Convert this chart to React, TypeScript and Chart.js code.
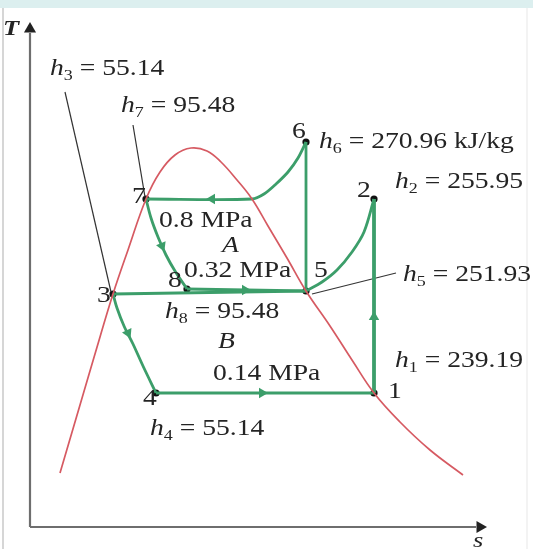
import { useEffect, useRef } from 'react';
import { Chart, registerables } from 'chart.js';
Chart.register(...registerables);

// ---- data (s, T in diagram units; T grows upward) ----
const domeS = [60, 80, 100, 113, 128, 146, 160, 175, 191, 207, 221, 237, 252, 268, 287, 306, 330, 352, 374, 400, 430, 463];
const domeT = [76, 144, 212, 255, 299, 350, 377, 394, 401, 398, 387, 369, 350, 323, 291, 258, 223, 189, 156, 127, 99, 74];

const stateNames = ['1', '2', '3', '4', '5', '6', '7', '8'];
const stateS = [374, 374, 113, 156, 306, 306, 146, 187];
const stateT = [156, 350, 255, 156, 258, 407, 350, 260];

// process paths
const path78S = [146, 151, 158, 166, 175, 187];
const path78T = [350, 331, 312, 294, 278, 260];
const path85S = [187, 306];
const path85T = [260, 258];
const path35S = [113, 306];
const path35T = [255, 258];
const path56S = [306, 306];
const path56T = [258, 407];
const path67S = [306, 298, 288, 276, 264, 252, 146];
const path67T = [407, 391, 377, 365, 355, 350, 350];
const path52S = [306, 322, 337, 352, 364, 374];
const path52T = [258, 267, 279, 297, 317, 350];
const path12S = [374, 374];
const path12T = [156, 350];
const path14S = [374, 156];
const path14T = [156, 156];
const path43S = [156, 143, 133, 124, 117, 113];
const path43T = [156, 183, 205, 223, 241, 255];

// flow arrows: position and heading (deg, clockwise from up)
const arrowS = [212, 162, 245, 262, 374, 128];
const arrowT = [350, 303, 259, 156, 232, 216];
const arrowDir = [-90, 157, 90, 90, 0, 155];

// leader lines
const leaders = [
  { s: [65, 111], T: [457, 257] },
  { s: [133, 145], T: [424, 352] },
  { s: [312, 396], T: [255, 276] },
];

// enthalpy labels
const hSubs = ['3', '7', '6', '2', '5', '8', '1', '4'];
const hValues = ['55.14', '95.48', '270.96 kJ/kg', '255.95', '251.93', '95.48', '239.19', '55.14'];
const hS = [50, 121, 319, 395, 403, 165, 395, 150];
const hT = [474, 437, 401, 361, 268, 231, 182, 114];

// state number labels
const numS = [388, 357, 97, 143, 314, 292, 132, 168];
const numT = [151, 352, 247, 144, 272, 411, 346, 262];

// pressure labels
const pressTexts = ['0.8 MPa', '0.32 MPa', '0.14 MPa'];
const pressS = [159, 184, 213];
const pressT = [322, 272, 169];

// region labels
const regionTexts = ['A', 'B'];
const regionS = [222, 218];
const regionT = [297, 201];

// axes
const axisTS = [30, 30];
const axisTT = [22, 516];
const axisSS = [30, 476];
const axisST = [22, 22];
const axisArrowS = [30, 480];
const axisArrowT = [520, 22];
const axisArrowDir = [0, 90];

const GREEN = '#3c9e6a';
const RED = '#d65a62';
const TXT = '#242424';
const SX = 1.2;
const SERIF = '"Liberation Serif", "DejaVu Serif", serif';

const pts = (s: number[], t: number[]) => s.map((v, i) => ({ x: v, y: t[i] }));

type Part = { t: string; font: string; dy: number };

function drawParts(ctx: CanvasRenderingContext2D, x: number, y: number, parts: Part[]) {
  ctx.save();
  ctx.translate(x, y);
  ctx.scale(SX, 1);
  let cx = 0;
  for (const p of parts) {
    ctx.font = p.font;
    ctx.fillText(p.t, cx, p.dy);
    cx += ctx.measureText(p.t).width;
  }
  ctx.restore();
}

const decorPlugin = {
  id: 'decor',
  beforeDraw(chart: any) {
    const { ctx, width, height } = chart;
    ctx.save();
    ctx.fillStyle = '#ffffff';
    ctx.fillRect(0, 0, width, height);
    ctx.fillStyle = '#dcefef';
    ctx.fillRect(0, 0, width, 8);
    ctx.strokeStyle = '#c8c8c8';
    ctx.lineWidth = 1.5;
    ctx.beginPath();
    ctx.moveTo(3, 8);
    ctx.lineTo(3, height);
    ctx.stroke();
    ctx.strokeStyle = '#efefef';
    ctx.beginPath();
    ctx.moveTo(527, 8);
    ctx.lineTo(527, height);
    ctx.stroke();
    ctx.restore();
  },
};

const labelPlugin = {
  id: 'labels',
  afterDatasetsDraw(chart: any) {
    const { ctx } = chart;
    const xs = chart.scales.x;
    const ys = chart.scales.y;
    const px = (v: number) => xs.getPixelForValue(v);
    const py = (v: number) => ys.getPixelForValue(v);
    ctx.save();
    ctx.fillStyle = TXT;
    ctx.textBaseline = 'alphabetic';
    ctx.textAlign = 'left';
    const big = `23px ${SERIF}`;
    const ital = `italic 23px ${SERIF}`;
    const sub = `15px ${SERIF}`;
    hSubs.forEach((sb, i) => {
      drawParts(ctx, px(hS[i]), py(hT[i]), [
        { t: 'h', font: ital, dy: 0 },
        { t: sb, font: sub, dy: 5 },
        { t: ' = ' + hValues[i], font: big, dy: 0 },
      ]);
    });
    stateNames.forEach((n, i) => {
      drawParts(ctx, px(numS[i]), py(numT[i]), [{ t: n, font: big, dy: 0 }]);
    });
    pressTexts.forEach((t, i) => {
      drawParts(ctx, px(pressS[i]), py(pressT[i]), [{ t, font: big, dy: 0 }]);
    });
    regionTexts.forEach((t, i) => {
      drawParts(ctx, px(regionS[i]), py(regionT[i]), [{ t, font: ital, dy: 0 }]);
    });
    drawParts(ctx, px(3), py(514), [{ t: 'T', font: `bold italic 22px ${SERIF}`, dy: 0 }]);
    drawParts(ctx, px(473), py(2), [{ t: 's', font: `italic 22px ${SERIF}`, dy: 0 }]);
    ctx.restore();
  },
};

export default function App() {
  const ref = useRef<HTMLCanvasElement | null>(null);
  useEffect(() => {
    if (!ref.current) return;
    const line = (s: number[], t: number[], color: string, w: number, tension = 0.35) => ({
      data: pts(s, t),
      showLine: true,
      borderColor: color,
      borderWidth: w,
      pointRadius: 0,
      pointHoverRadius: 0,
      tension,
      fill: false,
      clip: false as any,
    });
    const chart = new Chart(ref.current, {
      type: 'scatter',
      data: {
        datasets: [
          line(axisTS, axisTT, '#6e6e6e', 2.2, 0),
          line(axisSS, axisST, '#6e6e6e', 2.2, 0),
          {
            data: pts(axisArrowS, axisArrowT),
            pointStyle: 'triangle',
            rotation: axisArrowDir,
            pointRadius: 7,
            backgroundColor: '#222',
            borderColor: '#222',
            borderWidth: 0,
            showLine: false,
          } as any,
          line(domeS, domeT, RED, 1.7, 0.4),
          line(path78S, path78T, GREEN, 2.8),
          line(path85S, path85T, GREEN, 2.8, 0),
          line(path35S, path35T, GREEN, 2.8, 0),
          line(path56S, path56T, GREEN, 2.8, 0),
          line(path67S, path67T, GREEN, 2.8, 0.3),
          line(path52S, path52T, GREEN, 2.8),
          line(path12S, path12T, GREEN, 3.8, 0),
          line(path14S, path14T, GREEN, 2.8, 0),
          line(path43S, path43T, GREEN, 2.8),
          ...leaders.map((l) => line(l.s, l.T, '#333', 1.2, 0)),
          {
            data: pts(arrowS, arrowT),
            pointStyle: 'triangle',
            rotation: arrowDir,
            pointRadius: 6,
            backgroundColor: GREEN,
            borderColor: GREEN,
            borderWidth: 0,
            showLine: false,
          } as any,
          {
            data: pts(stateS, stateT),
            pointStyle: 'circle',
            pointRadius: 3.6,
            backgroundColor: '#111',
            borderColor: '#111',
            borderWidth: 0,
            showLine: false,
          } as any,
        ],
      },
      options: {
        animation: false,
        responsive: false,
        events: [],
        layout: { padding: 0, autoPadding: false } as any,
        plugins: { legend: { display: false }, tooltip: { enabled: false }, title: { display: false } },
        scales: {
          x: { type: 'linear', min: 0, max: 533, display: false },
          y: { type: 'linear', min: 0, max: 549, display: false },
        },
      },
      plugins: [decorPlugin, labelPlugin],
    });
    return () => chart.destroy();
  }, []);
  return (
    <div style={{ position: 'fixed', left: 0, top: 0, width: 533, height: 549 }}>
      <canvas ref={ref} width={533} height={549} style={{ display: 'block', width: 533, height: 549 }} />
    </div>
  );
}
